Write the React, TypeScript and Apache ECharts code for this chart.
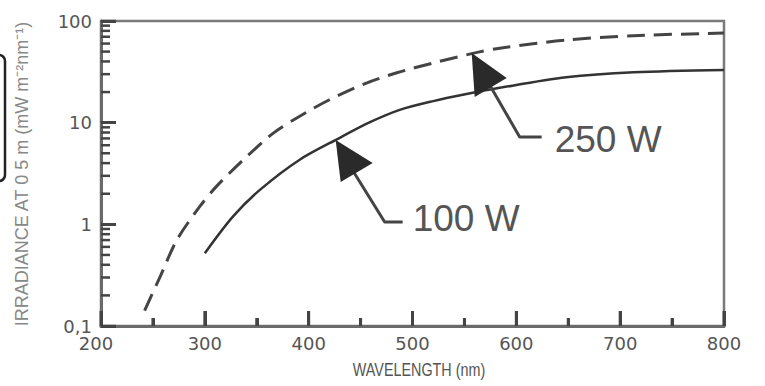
import React, { useEffect, useRef } from "react";
import * as echarts from "echarts";

// ---- data ----
const xMajorTicks = [200, 300, 400, 500, 600, 700, 800];
const xMinorTicks = [250, 350, 450, 550, 650, 750];
const yMajorTicks = [0.1, 1, 10, 100];
const yTickLabels: Record<string, string> = { "0.1": "0,1", "1": "1", "10": "10", "100": "100" };
// log-axis minor tick positions (2..9 of each decade)
const yMinorTicks = [
  0.2, 0.3, 0.4, 0.5, 0.6, 0.7, 0.8, 0.9,
  2, 3, 4, 5, 6, 7, 8, 9,
  20, 30, 40, 50, 60, 70, 80, 90,
];

const wave250 = [242, 257, 273, 295, 311, 337, 366, 391, 420, 455, 485, 519, 558, 584, 648, 713, 800];
const irr250 = [0.142, 0.306, 0.7, 1.49, 2.35, 4.3, 7.9, 11.5, 16.8, 24.4, 31, 38.4, 48, 54, 65, 71.8, 76];

const wave100 = [300, 327, 353, 391, 430, 458, 487, 520, 552, 584, 648, 713, 800];
const irr100 = [0.52, 1.19, 2.18, 4.3, 7.1, 10.0, 13.3, 16.3, 19.1, 22, 27.9, 31.3, 33];

// annotation anchors (tip of arrow on the curve), in data units
const annotations = [
  { label: "250 W", wave: 557, irr: 48.4 },
  { label: "100 W", wave: 426, irr: 6.76 },
];

const xTitle = "WAVELENGTH (nm)";
const yTitle = "IRRADIANCE AT 0 5 m (mW m\u207B\u00B2nm\u207B\u00B9)";

const TICK = "#444444";

export default function App() {
  const ref = useRef<HTMLDivElement>(null);

  useEffect(() => {
    if (!ref.current) return;
    const chart = echarts.init(ref.current, undefined, { renderer: "svg" });
    const tickFont = "DejaVu Sans";
    chart.setOption({
      animation: false,
      grid: {
        left: 101,
        right: 41,
        top: 21,
        bottom: 60,
        show: true,
        borderColor: "#7a7a7a",
        borderWidth: 2.5,
      },
      xAxis: {
        type: "value",
        min: 200,
        max: 800,
        interval: 100,
        axisLine: { show: true, onZero: false, lineStyle: { color: "#6a6a6a", width: 3 } },
        axisTick: { show: true, inside: true, length: 15, lineStyle: { color: TICK, width: 3 } },
        minorTick: { show: true, splitNumber: 2, length: 8, lineStyle: { color: TICK, width: 3 } },
        splitLine: { show: false },
        axisLabel: {
          margin: 8,
          color: "#555555",
          fontSize: 18,
          fontFamily: tickFont,
          formatter: (v: number) => (v === 200 ? "{l|200}" : String(v)),
          rich: {
            l: { padding: [0, 10, 0, 0], color: "#555555", fontSize: 18, fontFamily: tickFont },
          },
        },
      },
      yAxis: {
        type: "log",
        logBase: 10,
        min: 0.1,
        max: 100,
        axisLine: { show: true, onZero: false, lineStyle: { color: "#6a6a6a", width: 3 } },
        axisTick: { show: true, inside: true, length: 15, lineStyle: { color: TICK, width: 3 } },
        splitLine: { show: false },
        axisLabel: {
          margin: 9,
          color: "#555555",
          fontSize: 18,
          fontFamily: tickFont,
          formatter: (v: number) => {
            const key = String(Number(v.toPrecision(3)));
            return yTickLabels[key] ?? key;
          },
        },
      },
      series: [
        {
          name: "250 W",
          type: "line",
          data: wave250.map((w, i) => [w, irr250[i]]),
          showSymbol: false,
          symbol: "none",
          smooth: 0.3,
          lineStyle: { color: "#444444", width: 3, type: [18, 9] },
        },
        {
          name: "100 W",
          type: "line",
          data: wave100.map((w, i) => [w, irr100[i]]),
          showSymbol: false,
          symbol: "none",
          smooth: 0.3,
          lineStyle: { color: "#333333", width: 2.5 },
        },
      ],
    });

    const px = (x: number, y: number) =>
      chart.convertToPixel({ gridIndex: 0 }, [x, y]) as number[];
    const graphics: any[] = [];

    // axis ticks as small filled rectangles, placed through the chart's own scales
    const vTick = (p: number[], len: number) => ({
      type: "rect",
      shape: { x: p[0] - 1.5, y: p[1] - len, width: 3, height: len },
      style: { fill: TICK },
      z: 12,
    });
    const hTick = (p: number[], len: number) => ({
      type: "rect",
      shape: { x: p[0], y: p[1] - 1.25, width: len, height: 2.5 },
      style: { fill: TICK },
      z: 12,
    });
    xMajorTicks.forEach((v) => graphics.push(vTick(px(v, 0.1), 15)));
    xMinorTicks.forEach((v) => graphics.push(vTick(px(v, 0.1), 8)));
    yMajorTicks.forEach((v) => graphics.push(hTick(px(200, v), 15)));
    yMinorTicks.forEach((v) => graphics.push(hTick(px(200, v), 9)));

    const shapes = [
      {
        tri: [[0, 0], [3, 44], [35, 25]],
        shaft: [[18, 32], [48, 84], [70, 84]],
        text: [83, 86],
      },
      {
        tri: [[0, 0], [5, 42], [37, 23]],
        shaft: [[18, 32], [49, 82], [67, 82]],
        text: [77, 79],
      },
    ];
    annotations.forEach((a, i) => {
      const p = px(a.wave, a.irr);
      const s = shapes[i];
      graphics.push({
        type: "polyline",
        shape: { points: s.shaft.map(([dx, dy]) => [p[0] + dx, p[1] + dy]) },
        style: { stroke: "#444444", lineWidth: 3, fill: null, lineJoin: "round" },
        z: 10,
      });
      graphics.push({
        type: "polygon",
        shape: { points: s.tri.map(([dx, dy]) => [p[0] + dx, p[1] + dy]) },
        style: { fill: "#2a2a2a" },
        z: 11,
      });
      graphics.push({
        type: "text",
        x: p[0] + s.text[0],
        y: p[1] + s.text[1],
        style: {
          text: a.label,
          fontSize: 37,
          fontFamily: "Liberation Sans",
          fill: "#555555",
          align: "left",
          verticalAlign: "middle",
        },
        z: 11,
      });
    });

    graphics.push({
      type: "text",
      x: 419,
      y: 370,
      scaleX: 0.82,
      style: {
        text: xTitle,
        fontSize: 17.5,
        fontFamily: "Liberation Sans",
        fill: "#555555",
        align: "center",
        verticalAlign: "middle",
      },
    });
    graphics.push({
      type: "text",
      x: 22,
      y: 174,
      rotation: Math.PI / 2,
      style: {
        text: yTitle,
        fontSize: 18,
        fontFamily: "Liberation Sans",
        fill: "#888888",
        align: "center",
        verticalAlign: "middle",
      },
    });
    graphics.push({
      type: "rect",
      shape: { x: -20, y: 55, width: 25, height: 126, r: 6 },
      style: { fill: "none", stroke: "#222222", lineWidth: 2.5 },
    });

    chart.setOption({ graphic: graphics });

    return () => chart.dispose();
  }, []);

  return (
    <div
      ref={ref}
      style={{ position: "absolute", left: 0, top: 0, width: 765, height: 386 }}
    />
  );
}
